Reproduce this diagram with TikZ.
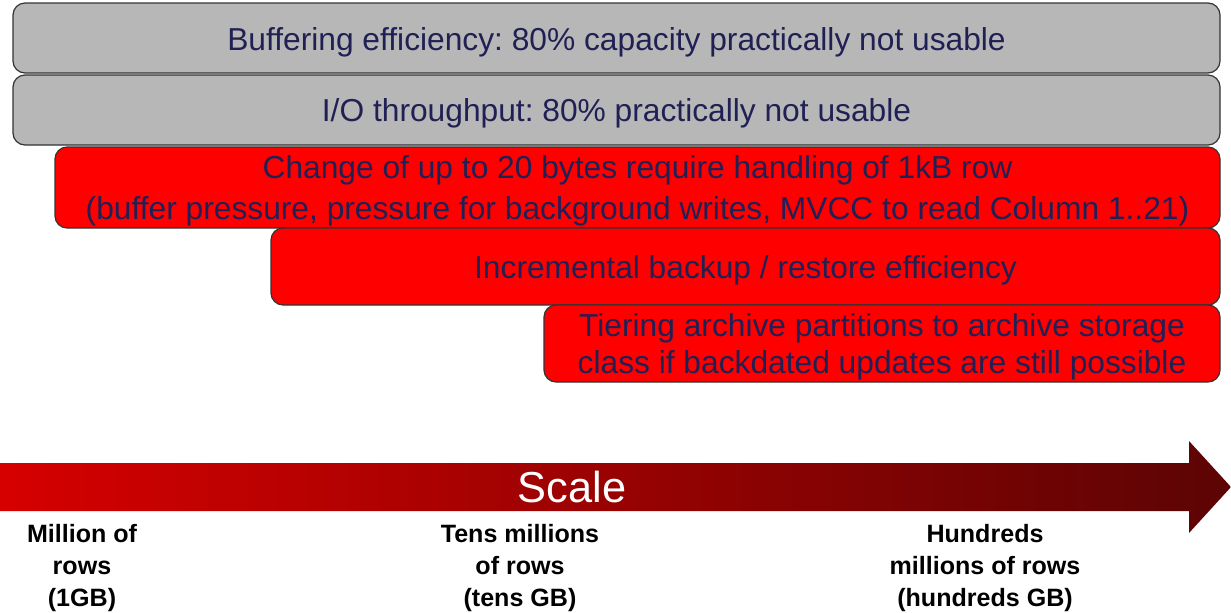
\documentclass[tikz,border=0pt]{standalone}
\usepackage{fontspec}
\setmainfont{Liberation Sans}
\frenchspacing
\begin{document}
\begin{tikzpicture}[x=0.75pt,y=-0.75pt,
  box/.style={draw=black!80, line width=0.9pt, rounded corners=9pt, inner sep=0pt,
    text=txtblue, font=\fontsize{23.8}{29}\selectfont, align=center, text depth=0pt},
  graybox/.style={box, fill=boxgray},
  redbox/.style={box, fill=boxred},
  lbl/.style={font=\fontsize{18.8}{24}\selectfont\bfseries, align=center, text=black}]
\definecolor{boxgray}{RGB}{183,183,183}
\definecolor{boxred}{RGB}{255,0,0}
\definecolor{txtblue}{RGB}{32,32,84}
\definecolor{arrL}{RGB}{214,0,0}
\definecolor{arrR}{RGB}{92,4,4}
\useasboundingbox (0,0) rectangle (1231,612);
\node[graybox, minimum width=905.25pt, minimum height=52.5pt] (b1) at (616.5,38) {\raisebox{-2pt}{Buffering efficiency: 80\% capacity practically not usable}};
\node[graybox, minimum width=905.25pt, minimum height=52.5pt] (b2) at (616.5,110) {I/O throughput: 80\% practically not usable};
\node[redbox, minimum width=873.75pt, minimum height=60.75pt, font=\fontsize{23.8}{30.5}\selectfont, text depth=-2pt] (b3) at (637.5,187.5) {Change of up to 20 bytes require handling of 1kB row\\(buffer pressure, pressure for background writes, MVCC to read Column 1..21)};
\node[redbox, minimum width=711.75pt, minimum height=57.75pt] (b4) at (745.5,266.5) {Incremental backup / restore efficiency};
\node[redbox, minimum width=507pt, minimum height=57.75pt, font=\fontsize{23.8}{27.5}\selectfont] (b5) at (882,343.5) {Tiering archive partitions to archive storage\\class if backdated updates are still possible};
\shade[left color=arrL, right color=arrR] (0,463) -- (1189,463) -- (1189,441) -- (1231,487) -- (1189,533) -- (1189,511) -- (0,511) -- cycle;
\node[text=white, font=\fontsize{32.5}{36}\selectfont] (scale) at (572,487) {Scale};
\node[lbl] (l1) at (82,568) {Million of\\rows\\(1GB)};
\node[lbl] (l2) at (520,568) {Tens millions\\of rows\\(tens GB)};
\node[lbl] (l3) at (985,568) {Hundreds\\millions of rows\\(hundreds GB)};
\end{tikzpicture}
\end{document}
